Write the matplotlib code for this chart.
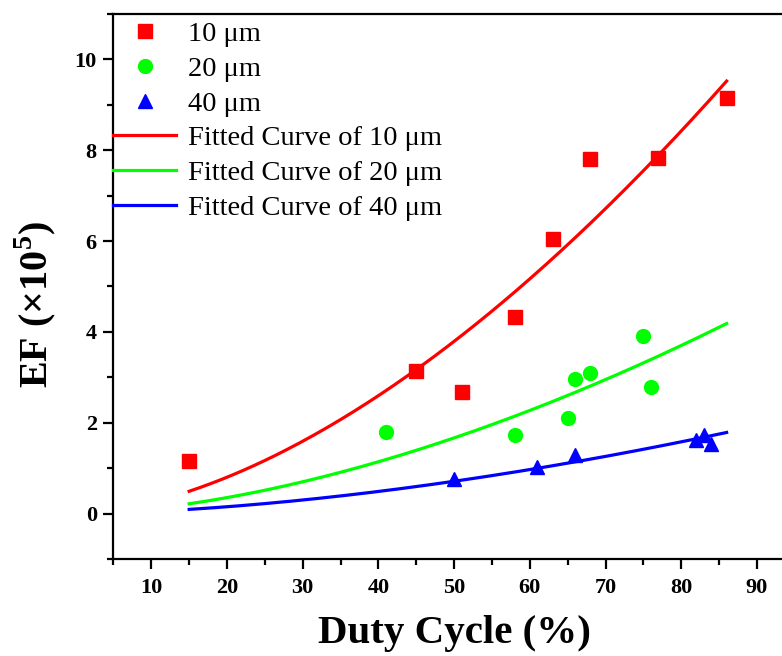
import numpy as np
import matplotlib
matplotlib.use('Agg')
import matplotlib.pyplot as plt
from matplotlib.ticker import MultipleLocator

plt.rcParams['font.family'] = ['Liberation Serif', 'DejaVu Serif']
plt.rcParams['mathtext.fontset'] = 'custom'
plt.rcParams['mathtext.rm'] = 'Liberation Serif'
plt.rcParams['mathtext.bf'] = 'Liberation Serif:bold'

# data: duty cycle (%) vs EF (x1e5)
x10 = [15, 45, 51, 58, 63, 68, 77, 86]
y10 = [1.16, 3.13, 2.68, 4.32, 6.05, 7.81, 7.82, 9.15]
x20 = [41, 58, 65, 66, 68, 75, 76]
y20 = [1.80, 1.72, 2.10, 2.97, 3.10, 3.90, 2.78]
x40 = [50, 61, 66, 82, 83, 84]
y40 = [0.75, 1.03, 1.30, 1.63, 1.73, 1.54]
fit_range = [15, 86]

series = [(x10, y10), (x20, y20), (x40, y40)]


def global_power_fit(series):
    # y = a_i * x^b with one shared exponent b, least squares
    best = None
    for b in np.linspace(0.5, 3.0, 2501):
        err = 0.0
        coefs = []
        for x, y in series:
            x = np.asarray(x, float)
            y = np.asarray(y, float)
            xb = x ** b
            a = np.sum(y * xb) / np.sum(xb * xb)
            err += np.sum((y - a * xb) ** 2)
            coefs.append(a)
        if best is None or err < best[0]:
            best = (err, coefs, b)
    return best[1], best[2]


fig = plt.figure(figsize=(7.82, 6.56), dpi=100)
ax = fig.add_axes([0.1451, 0.1479, 0.8712, 0.8308])

xs = np.linspace(fit_range[0], fit_range[1], 200)

ax.plot(x10, y10, 's', color='#ff0000', markersize=9.5, label='10 μm', zorder=3)
ax.plot(x20, y20, 'o', color='#00ff00', markersize=10, label='20 μm', zorder=3)
ax.plot(x40, y40, '^', color='#0000ff', markersize=10.5, label='40 μm', zorder=3)

coefs, b = global_power_fit(series)
colors = ['#ff0000', '#00ff00', '#0000ff']
names = ['Fitted Curve of 10 μm', 'Fitted Curve of 20 μm', 'Fitted Curve of 40 μm']
for a, c, lab in zip(coefs, colors, names):
    ax.plot(xs, a * xs ** b, '-', color=c, linewidth=2.3, label=lab, zorder=2)

ax.set_xlim(5, 95)
ax.set_ylim(-1, 11)
ax.set_xticks([10, 20, 30, 40, 50, 60, 70, 80, 90])
ax.xaxis.set_minor_locator(MultipleLocator(5))
ax.yaxis.set_major_locator(MultipleLocator(2))
ax.yaxis.set_minor_locator(MultipleLocator(1))

for s in ax.spines.values():
    s.set_linewidth(1.6)

ax.tick_params(which='major', direction='out', length=7, width=1.6,
               labelsize=16, pad=7)
ax.tick_params(axis='y', which='major', pad=5)
ax.tick_params(which='minor', direction='out', length=4, width=1.6)
for lbl in ax.get_xticklabels() + ax.get_yticklabels():
    lbl.set_fontweight('bold')

ax.set_xlabel('Duty Cycle (%)', fontsize=29.5, fontweight='bold', labelpad=12)
ax.set_ylabel(r'EF (×10$^{\mathbf{5}}$)', fontsize=29, fontweight='bold')
ax.yaxis.set_label_coords(-0.082, 0.468)

ax.legend(loc='upper left', bbox_to_anchor=(0.0, 0.987), frameon=False,
          fontsize=20.5, numpoints=1,
          handlelength=2.2, handletextpad=0.42, labelspacing=0.31,
          borderaxespad=0.0, borderpad=0.0)

fig.savefig('out.png', dpi=100)
